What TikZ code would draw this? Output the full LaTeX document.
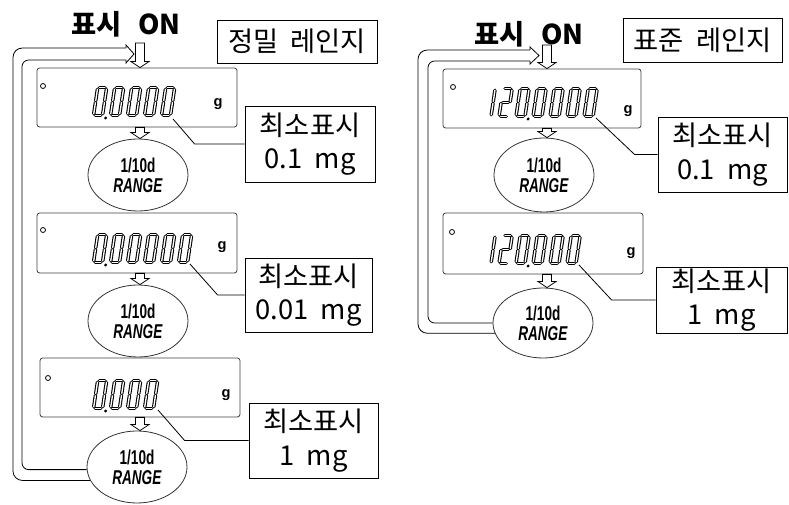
\documentclass[tikz,border=0pt]{standalone}
\usepackage{fontspec}
\setmainfont{Noto Sans CJK KR}
\newfontfamily\lcdfont[FakeStretch=0.68]{Liberation Sans}
\newfontfamily\gfont{Liberation Sans}
\usetikzlibrary{positioning,calc,shapes.geometric}

\def\px{0.75pt}
\tikzset{
	lcdbox/.style={draw=black!75, rounded corners=2pt, inner sep=0},
	rangebubble/.style={draw=black!80, ellipse, inner sep=0, align=center, minimum width=100*\px, minimum height=72*\px, font=\lcdfont\bfseries\fontsize{15}{15}\selectfont},
	infobox/.style={draw, inner sep=0, align=center, font=\fontsize{20.5}{25}\selectfont},
	ontext/.style={font=\bfseries\fontsize{20.5}{20.5}\selectfont},
	unitlabel/.style={font=\gfont\bfseries\fontsize{11}{11}\selectfont},
	seg/.style={double=white, double distance=1pt, line width=0.8pt, line cap=round},
	seg a/.style={insert path={(3.8,28) -- (9.2,28)}},
	seg b/.style={insert path={(11,26.2) -- (11,14.9)}},
	seg c/.style={insert path={(11,13.1) -- (11,1.8)}},
	seg d/.style={insert path={(3.8,0) -- (9.2,0)}},
	seg e/.style={insert path={(2,13.1) -- (2,1.8)}},
	seg f/.style={insert path={(2,26.2) -- (2,14.9)}},
	seg g/.style={insert path={(3.8,14) -- (9.2,14)}}
}
\newcommand{\lcddigit}[3]{\begin{scope}[shift={(#1,#2)},xslant=0.15,yscale=-1]\foreach \s in {#3}{\draw[seg,seg \s];}\end{scope}}
\newcommand{\lcddot}[2]{\begin{scope}[shift={(#1,#2)},xslant=0.15,yscale=-1]\fill (14.5,-2.5) circle (1.6);\end{scope}}
\newcommand{\hollowdown}[2]{\draw[fill=white] ($(#1)+(-4.5,0)$) -- ($(#1)+(4.5,0)$) -- ($(#2)+(4.5,-6)$) -- ($(#2)+(9,-6)$) -- (#2) -- ($(#2)+(-9,-6)$) -- ($(#2)+(-4.5,-6)$) -- cycle;}

\begin{document}
\begin{tikzpicture}[x=0.75pt,y=-0.75pt,semithick]
	\useasboundingbox (0,0) rectangle (789,505);

	\node[ontext] (on1) at (126,24) {표시\hspace{0.6em}ON};
	\node[infobox, minimum width=160*\px, minimum height=43*\px] (t1) at (297,41.5) {정밀\ \ 레인지};
	\node[lcdbox, minimum width=200*\px, minimum height=59*\px] (d1) at (137,97.5) {};
	\node[lcdbox, minimum width=200*\px, minimum height=60*\px] (d2) at (137,243) {};
	\node[lcdbox, minimum width=200*\px, minimum height=59*\px] (d3) at (140,387.5) {};
	\node[rangebubble] (e1) at (138,175) {1/10d\\\textit{RANGE}};
	\node[rangebubble] (e2) at (138,321) {1/10d\\\textit{RANGE}};
	\node[rangebubble] (e3) at (137,467) {1/10d\\\textit{RANGE}};
	\node[infobox, minimum width=130*\px, minimum height=76*\px] (b1) at (310,144) {최소표시\\0.1\ \ mg};
	\node[infobox, minimum width=127*\px, minimum height=74*\px] (b2) at (308.5,295) {최소표시\\0.01\ \ mg};
	\node[infobox, minimum width=129*\px, minimum height=75*\px] (b3) at (313.5,440.5) {최소표시\\1\ \ mg};

	\draw (43,86) circle (2.5);
	\draw (43,230) circle (2.5);
	\draw (48,378) circle (2.5);
	\node[unitlabel] (g1) at (218,104) {g};
	\node[unitlabel] (g2) at (222,247) {g};
	\node[unitlabel] (g3) at (226,395) {g};
	\foreach \k in {0,...,4} \lcddigit{91.5+17*\k}{115.5}{a,b,c,d,e,f};
	\lcddot{91.5}{115.5}
	\foreach \k in {0,...,5} \lcddigit{91.5+17*\k}{262.5}{a,b,c,d,e,f};
	\lcddot{91.5}{262.5}
	\foreach \k in {0,...,3} \lcddigit{91.5+17*\k}{408.5}{a,b,c,d,e,f};
	\lcddot{91.5}{408.5}

	\coordinate (lx) at (140,43);
	\hollowdown{lx}{d1.north -| lx}
	\hollowdown{d1.south -| lx}{e1.north -| lx}
	\hollowdown{d2.south -| lx}{e2.north -| lx}
	\hollowdown{d3.south -| lx}{e3.north -| lx}

	\coordinate (c1) at (173,119);
	\coordinate (c2) at (190,264);
	\coordinate (c3) at (158,410);
	\draw (c1) -- ($(b1.west)+(-50,0)$) -- (b1.west);
	\draw (c2) -- ($(b2.west)+(-27,0)$) -- (b2.west);
	\draw (c3) -- ($(b3.west)+(-64,0)$) -- (b3.west);

	\coordinate (ltip) at (134,54);
	\draw[rounded corners=7] (e3.196) -| (13,48) -- (126,48);
	\draw[rounded corners=5] (e3.183) -| (22,60) -- (126,60);
	\draw (126,48) -- (126,45) -- (ltip) -- (126,63) -- (126,60);

	\node[ontext] (on2) at (529,34) {표시\hspace{0.6em}ON};
	\node[infobox, minimum width=159*\px, minimum height=44*\px] (t2) at (702.5,40) {표준\ \ 레인지};
	\node[lcdbox, minimum width=198*\px, minimum height=59*\px] (dr1) at (542,98.5) {};
	\node[lcdbox, minimum width=200*\px, minimum height=61*\px] (dr2) at (543,243.5) {};
	\node[rangebubble, minimum height=74*\px] (r1) at (544,175) {1/10d\\\textit{RANGE}};
	\node[rangebubble, minimum height=70*\px] (r2) at (543,323) {1/10d\\\textit{RANGE}};
	\node[infobox, minimum width=129*\px, minimum height=75*\px] (br1) at (722.5,154.5) {최소표시\\0.1\ \ mg};
	\node[infobox, minimum width=131*\px, minimum height=66*\px] (br2) at (721.5,300) {최소표시\\1\ \ mg};

	\draw (453,87) circle (2.5);
	\draw (452,232) circle (2.5);
	\node[unitlabel] (g4) at (628,111) {g};
	\node[unitlabel] (g5) at (631,253) {g};
	\lcddigit{480}{116.5}{b,c}
	\lcddigit{497}{116.5}{a,b,g,e,d}
	\foreach \k in {2,...,6} \lcddigit{480+17*\k}{116.5}{a,b,c,d,e,f};
	\lcddot{514}{116.5}
	\lcddigit{480}{263.5}{b,c}
	\lcddigit{497}{263.5}{a,b,g,e,d}
	\foreach \k in {2,...,5} \lcddigit{480+17*\k}{263.5}{a,b,c,d,e,f};
	\lcddot{514}{263.5}

	\coordinate (rx) at (547,45);
	\hollowdown{rx}{dr1.north -| rx}
	\hollowdown{dr1.south -| rx}{r1.north -| rx}
	\hollowdown{dr2.south -| rx}{r2.north -| rx}

	\coordinate (c4) at (596,118);
	\coordinate (c5) at (579,265);
	\draw (c4) -- ($(br1.west)+(-23,0)$) -- (br1.west);
	\draw (c5) -- ($(br2.west)+(-44,0)$) -- (br2.west);

	\coordinate (rtip) at (539,55.5);
	\draw[rounded corners=7] (r2.192) -| (418,50) -- (530,50);
	\draw[rounded corners=5] (r2.180) -| (428,61) -- (530,61);
	\draw (530,50) -- (530,47) -- (rtip) -- (530,64) -- (530,61);
\end{tikzpicture}
\end{document}
